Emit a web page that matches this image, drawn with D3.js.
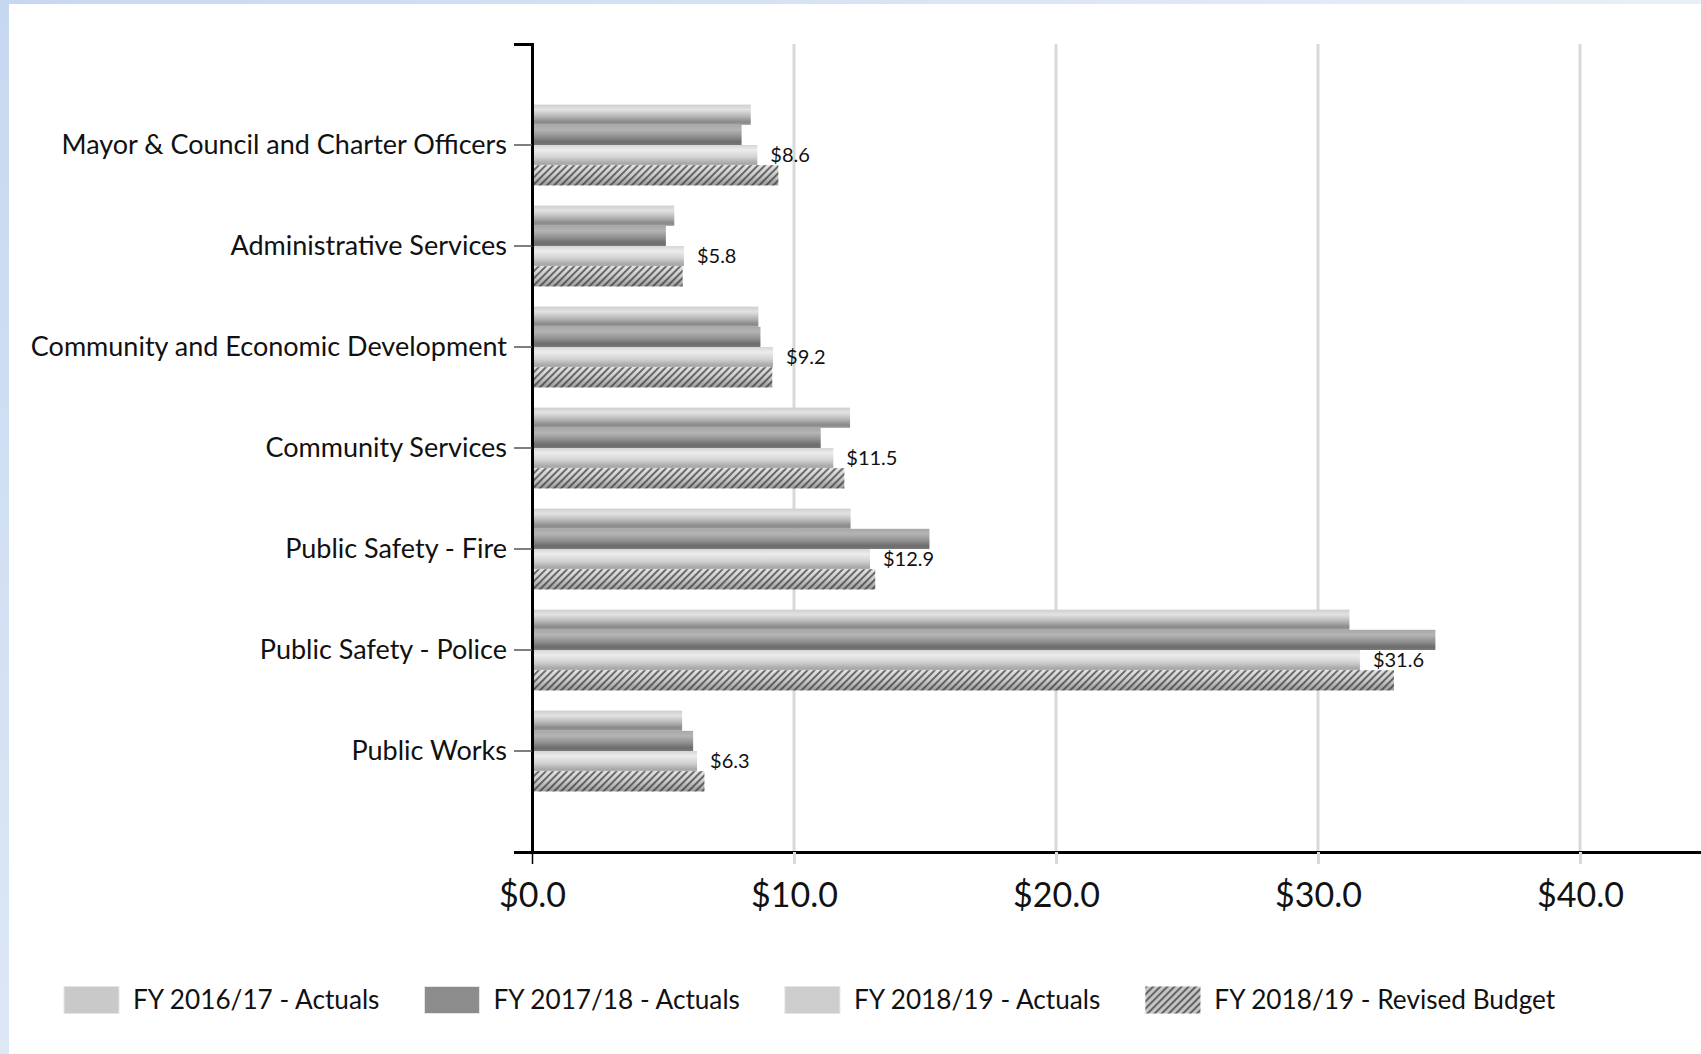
<!DOCTYPE html>
<meta charset="utf-8">
<style>
body { margin: 0; background: #fff; }
text { font-family: Lato, "Open Sans", sans-serif; fill: #111; }
.grid line { stroke: #d9d9d9; stroke-width: 3px; }
.yaxis path { stroke: #000; stroke-width: 3px; }
.yaxis .tick line { stroke: #555; stroke-width: 1.5px; }
.xaxis path { stroke: #000; stroke-width: 3px; }
.xaxis .tick line { stroke: #d9d9d9; stroke-width: 3px; }
</style>
<body>
<script src="https://cdn.jsdelivr.net/npm/d3@7"></script>
<script>

// departments, top to bottom
var categories = [
  "Mayor & Council and Charter Officers",
  "Administrative Services",
  "Community and Economic Development",
  "Community Services",
  "Public Safety - Fire",
  "Public Safety - Police",
  "Public Works"
];

// expenditures, $ millions
var fy1617Actuals = [8.35, 5.43, 8.64, 12.14, 12.16, 31.2, 5.73];
var fy1718Actuals = [8.0, 5.11, 8.72, 11.02, 15.17, 34.48, 6.15];
var fy1819Actuals = [8.6, 5.8, 9.2, 11.5, 12.9, 31.6, 6.3];
var fy1819Budget  = [9.4, 5.75, 9.17, 11.92, 13.1, 32.9, 6.58];

var seriesNames = ["FY 2016/17 - Actuals", "FY 2017/18 - Actuals", "FY 2018/19 - Actuals", "FY 2018/19 - Revised Budget"];
var xTicks = [0, 10, 20, 30, 40];

var series = [fy1617Actuals, fy1718Actuals, fy1819Actuals, fy1819Budget];

var W = 1701, H = 1054;
var svg = d3.select("body").append("svg")
    .attr("width", W)
    .attr("height", H);

// slide frame
var defs = svg.append("defs");
var topGrad = defs.append("linearGradient").attr("id", "topStrip");
topGrad.append("stop").attr("offset", 0).attr("stop-color", "#c6d8f0");
topGrad.append("stop").attr("offset", 1).attr("stop-color", "#e9eff8");
var leftGrad = defs.append("linearGradient").attr("id", "leftStrip")
    .attr("x1", 0).attr("y1", 0).attr("x2", 0).attr("y2", 1);
leftGrad.append("stop").attr("offset", 0).attr("stop-color", "#c6d8f0");
leftGrad.append("stop").attr("offset", 1).attr("stop-color", "#dde7f5");

svg.append("rect").attr("x", 0).attr("y", 0).attr("width", W).attr("height", 4).attr("fill", "url(#topStrip)");
svg.append("rect").attr("x", 0).attr("y", 0).attr("width", 9).attr("height", H).attr("fill", "url(#leftStrip)");

// bar shading
var barStops = [
  [[0, "#cfcfcf"], [0.25, "#e2e2e2"], [0.6, "#b4b4b4"], [0.85, "#8a8a8a"], [1, "#9a9a9a"]],
  [[0, "#a8a8a8"], [0.25, "#b4b4b4"], [0.6, "#8e8e8e"], [0.85, "#6c6c6c"], [1, "#7a7a7a"]],
  [[0, "#d6d6d6"], [0.25, "#ececec"], [0.6, "#d2d2d2"], [0.9, "#a8a8a8"], [1, "#b0b0b0"]],
  [[0, "#e2e2e2"], [0.5, "#cacaca"], [1, "#9a9a9a"]]
];
barStops.forEach(function(stops, i) {
  var g = defs.append("linearGradient").attr("id", "bar" + i)
      .attr("x1", 0).attr("y1", 0).attr("x2", 0).attr("y2", 1);
  stops.forEach(function(s) {
    g.append("stop").attr("offset", s[0]).attr("stop-color", s[1]);
  });
});

var hatch = defs.append("pattern").attr("id", "hatch")
    .attr("patternUnits", "userSpaceOnUse")
    .attr("width", 5).attr("height", 5)
    .attr("patternTransform", "rotate(45)");
hatch.append("line")
    .attr("x1", 1).attr("y1", 0).attr("x2", 1).attr("y2", 5)
    .attr("stroke", "#333").attr("stroke-width", 1.8).attr("stroke-opacity", 0.75);

// scales
var x = d3.scaleLinear().domain([0, 45]).range([532, 1711]);
var y = d3.scaleBand().domain(categories).range([44, 852]).paddingOuter(0.5).paddingInner(0);
var ySub = d3.scaleBand().domain(d3.range(series.length))
    .range([y.bandwidth() * 0.1, y.bandwidth() * 0.9]);

// gridlines
svg.append("g").attr("class", "grid")
  .selectAll("line")
  .data(xTicks.slice(1))
  .enter().append("line")
    .attr("x1", function(d) { return x(d); })
    .attr("x2", function(d) { return x(d); })
    .attr("y1", 44)
    .attr("y2", 852);

// bars
var groups = svg.append("g").selectAll("g")
    .data(categories)
    .enter().append("g")
    .attr("transform", function(d) { return "translate(0," + y(d) + ")"; });

series.forEach(function(vals, s) {
  groups.append("rect")
      .attr("x", x(0))
      .attr("y", ySub(s))
      .attr("width", function(d, i) { return x(vals[i]) - x(0); })
      .attr("height", ySub.bandwidth())
      .attr("fill", "url(#bar" + s + ")");
  if (s == 3) {
    groups.append("rect")
        .attr("x", x(0))
        .attr("y", ySub(s))
        .attr("width", function(d, i) { return x(vals[i]) - x(0); })
        .attr("height", ySub.bandwidth())
        .attr("fill", "url(#hatch)");
  }
});

// data labels on the FY 2018/19 actuals
groups.append("text")
    .attr("x", function(d, i) { return x(fy1819Actuals[i]) + 13; })
    .attr("y", ySub(2) + ySub.bandwidth() / 2)
    .attr("dy", "0.36em")
    .style("font-size", "20px")
    .text(function(d, i) { return "$" + fy1819Actuals[i].toFixed(1); });

// x axis
var xAxis = svg.append("g")
    .attr("class", "xaxis")
    .attr("transform", "translate(0,852)")
    .call(d3.axisBottom(x).tickValues(xTicks).tickSizeInner(12).tickSizeOuter(0).tickPadding(19)
      .tickFormat(function(d) { return "$" + d.toFixed(1); }));
xAxis.selectAll("text").style("font-size", "34px").style("fill", "#111");
xAxis.select(".tick line").style("stroke", "#000").style("stroke-width", 1.5);

// y axis
var yAxis = svg.append("g")
    .attr("class", "yaxis")
    .attr("transform", "translate(" + x(0) + ",0)")
    .call(d3.axisLeft(y).tickSizeInner(18).tickSizeOuter(18).tickPadding(7));
yAxis.selectAll("text").style("font-size", "27px").style("fill", "#111");

// legend
var legend = svg.append("g").attr("transform", "translate(0,1000)");
var lx = 64;
seriesNames.forEach(function(name, i) {
  legend.append("rect")
      .attr("x", lx).attr("y", -13.5)
      .attr("width", 55).attr("height", 27)
      .attr("fill", ["#c9c9c9", "#8c8c8c", "#cdcdcd", "#c4c4c4"][i])
      .attr("stroke", "#e4e4e4").attr("stroke-width", 1);
  if (i == 3) {
    legend.append("rect")
        .attr("x", lx).attr("y", -13.5)
        .attr("width", 55).attr("height", 27)
        .attr("fill", "url(#hatch)");
  }
  var t = legend.append("text")
      .attr("x", lx + 69)
      .attr("dy", "0.36em")
      .style("font-size", "26.2px")
      .text(name);
  lx = lx + 69 + t.node().getComputedTextLength() + 45;
});

</script>
</body>
